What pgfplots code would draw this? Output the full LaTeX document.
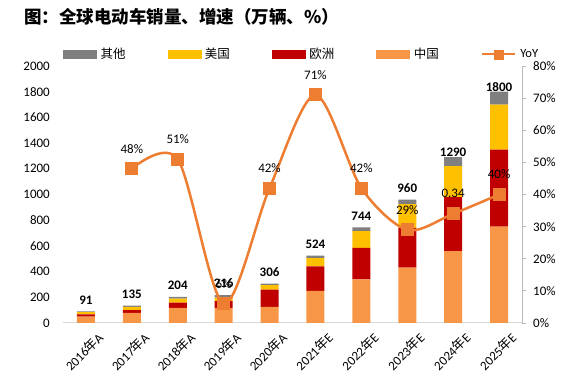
\documentclass[border=0pt]{standalone}
\usepackage{pgfplots}
\pgfplotsset{compat=1.18}
\usepackage{fontspec}
\setmainfont{Carlito}
\newfontfamily\cjk{Noto Sans CJK SC}
\definecolor{cOther}{HTML}{7F7F7F}
\definecolor{cUSA}{HTML}{FFC000}
\definecolor{cEU}{HTML}{C00000}
\definecolor{cCN}{HTML}{F79646}
\definecolor{cLine}{HTML}{ED7D31}
\definecolor{cAxis}{HTML}{D9D9D9}
\pgfplotsset{every axis/.append style={/pgf/number format/1000 sep={}, /pgf/number format/assume math mode=true}}
\begin{document}
\begin{tikzpicture}
\node[anchor=west, inner sep=0pt, font=\cjk\bfseries\fontsize{17.5}{19}\selectfont] at (24pt,374pt) {图：全球电动车销量、增速（万辆、\%）};
% bars
\begin{axis}[at={(63pt,68pt)}, anchor=south west, scale only axis,
  width=459pt, height=257pt,
  xmin=-0.5, xmax=9.5, ymin=0, ymax=2000,
  ybar stacked, bar width=18pt,
  axis x line*=bottom, axis y line*=left,
  y axis line style={draw=none},
  x axis line style={draw=cAxis, line width=1pt},
  xtick={0,...,9}, ytick={0,200,...,2000},
  xtick style={draw=none}, ytick style={draw=none},
  tick label style={font=\fontsize{13}{15}\selectfont},
  yticklabel style={anchor=east, inner sep=0pt, xshift=-13pt},
  xticklabels={{2016{\cjk 年}A},{2017{\cjk 年}A},{2018{\cjk 年}A},{2019{\cjk 年}A},{2020{\cjk 年}A},{2021{\cjk 年}E},{2022{\cjk 年}E},{2023{\cjk 年}E},{2024{\cjk 年}E},{2025{\cjk 年}E}},
  xticklabel style={rotate=45, anchor=north east, inner sep=0pt, xshift=2pt, yshift=-13pt},
  legend columns=5,
  legend style={at={(0,1)}, anchor=west, yshift=12pt, draw=none, fill=none,
    inner sep=0pt, font=\cjk\fontsize{12.5}{14}\selectfont,
    nodes={inner sep=0pt, anchor=west},
    /tikz/every odd column/.append style={column sep=4pt},
    /tikz/every even column/.append style={column sep=42pt}},
]
\addlegendimage{legend image code/.code={\fill[cOther] (0pt,-4pt) rectangle (33pt,4pt);}}
\addlegendimage{legend image code/.code={\fill[cUSA] (0pt,-4pt) rectangle (33pt,4pt);}}
\addlegendimage{legend image code/.code={\fill[cEU] (0pt,-4pt) rectangle (33pt,4pt);}}
\addlegendimage{legend image code/.code={\fill[cCN] (0pt,-4pt) rectangle (33pt,4pt);}}
\addlegendimage{legend image code/.code={\draw[cLine, line width=2.5pt] (0pt,0pt) -- (33pt,0pt); \fill[cLine] (12pt,-5pt) rectangle (21pt,4pt);}}
\legend{其他,美国,欧洲,中国,{\fontspec{Carlito}YoY}}
\addplot[fill=cCN, draw=none, forget plot] coordinates {(0,50) (1,78) (2,117) (3,117) (4,125) (5,250) (6,340) (7,430) (8,560) (9,750)};
\addplot[fill=cEU, draw=none, forget plot] coordinates {(0,18) (1,22) (2,41) (3,53) (4,135) (5,190) (6,245) (7,310) (8,420) (9,600)};
\addplot[fill=cUSA, draw=none, forget plot] coordinates {(0,17) (1,25) (2,32) (3,27) (4,35) (5,65) (6,130) (7,185) (8,240) (9,350)};
\addplot[fill=cOther, draw=none, forget plot] coordinates {(0,6) (1,10) (2,14) (3,19) (4,11) (5,19) (6,29) (7,35) (8,70) (9,100)};
\end{axis}
% totals
\begin{axis}[at={(63pt,68pt)}, anchor=south west, scale only axis,
  width=459pt, height=257pt,
  xmin=-0.5, xmax=9.5, ymin=0, ymax=2000, hide axis]
\addplot[draw=none, mark=none, nodes near coords,
  nodes near coords style={font=\bfseries\fontsize{13}{15}\selectfont, anchor=south, yshift=6pt, inner sep=1pt}]
  coordinates {(0,91) (1,135) (2,204) (3,216) (4,306) (5,524) (6,744) (7,960)};
\addplot[draw=none, mark=none, nodes near coords,
  nodes near coords style={font=\bfseries\fontsize{13}{15}\selectfont, anchor=south, yshift=-1pt, inner sep=1pt}]
  coordinates {(8,1290) (9,1800)};
\end{axis}
% YoY
\begin{axis}[at={(63pt,68pt)}, anchor=south west, scale only axis,
  width=459pt, height=257pt,
  xmin=-0.5, xmax=9.5, ymin=0, ymax=80,
  axis y line*=right, axis x line=none,
  y axis line style={draw=gray!55, line width=0.8pt},
  ytick={0,10,...,80}, ytick style={draw=gray!55, line width=0.8pt},
  tick align=outside, major tick length=4pt,
  yticklabel={\pgfmathprintnumber{\tick}\%},
  yticklabel style={font=\fontsize{13}{15}\selectfont, anchor=west, inner sep=0pt, xshift=7pt},
]
\addplot[cLine, line width=2.5pt, smooth, mark=square*, mark size=5.3pt,
  mark options={fill=cLine, draw=none},
  nodes near coords, point meta=explicit symbolic,
  nodes near coords style={black, font=\fontsize{13}{15}\selectfont, anchor=center, yshift=20pt}]
  coordinates {(1,48) [48\%] (2,51) [51\%] (3,6) [6\%] (4,42) [42\%] (5,71) [71\%] (6,42) [42\%] (7,29) [29\%] (8,34) [0.34] (9,40) [40\%]};
\end{axis}
\pgfresetboundingbox
\path[use as bounding box] (0pt,0pt) rectangle (571pt,391pt);
\end{tikzpicture}
\end{document}
